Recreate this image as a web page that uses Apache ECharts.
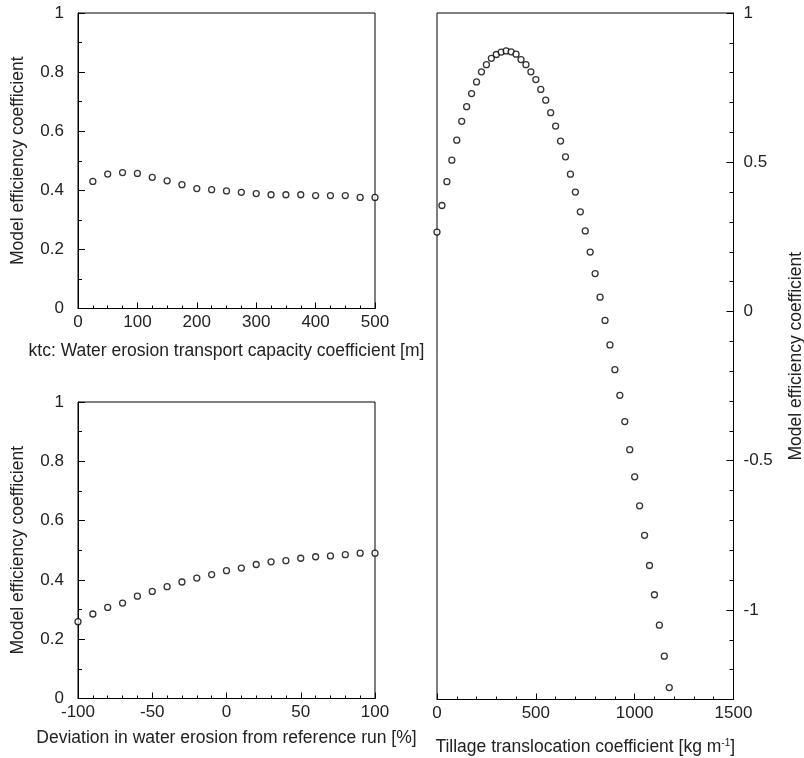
<!DOCTYPE html>
<html>
<head>
<meta charset="utf-8">
<script src="https://cdn.jsdelivr.net/npm/echarts@6/dist/echarts.min.js"></script>
<style>
html,body{margin:0;padding:0;background:#fff;}
#chart{width:804px;height:758px;}
</style>
</head>
<body>
<div id="chart"></div>
<script>
// ---- data ----
const ktcX = [25,50,75,100,125,150,175,200,225,250,275,300,325,350,375,400,425,450,475,500];
const ktcNSE = [0.430,0.455,0.460,0.457,0.444,0.432,0.419,0.406,0.402,0.398,0.393,0.389,0.385,0.385,0.385,0.382,0.382,0.382,0.376,0.376];

const devX = [-100,-90,-80,-70,-60,-50,-40,-30,-20,-10,0,10,20,30,40,50,60,70,80,90,100];
const devNSE = [0.259,0.285,0.307,0.322,0.345,0.361,0.377,0.393,0.406,0.418,0.431,0.440,0.452,0.461,0.465,0.473,0.478,0.481,0.485,0.490,0.490];

const tillX = [0,25,50,75,100,125,150,175,200,225,250,275,300,325,350,375,400,425,450,475,500,525,550,575,600,625,650,675,700,725,750,775,800,825,850,875,900,925,950,975,1000,1025,1050,1075,1100,1125,1150,1175];
const tillNSE = [0.266,0.355,0.435,0.507,0.574,0.637,0.686,0.730,0.769,0.803,0.827,0.848,0.861,0.869,0.873,0.870,0.862,0.844,0.827,0.803,0.777,0.744,0.708,0.666,0.621,0.571,0.518,0.460,0.400,0.334,0.270,0.199,0.127,0.048,-0.030,-0.112,-0.195,-0.281,-0.369,-0.463,-0.554,-0.651,-0.750,-0.851,-0.949,-1.051,-1.155,-1.260];

// right-panel y ticks (major with labels, minor without)
const rightYMajorTicks = [-1,-0.5,0,0.5,1];
const rightYMinorTicks = [-1.2,-1.1,-0.9,-0.8,-0.7,-0.6,-0.4,-0.3,-0.2,-0.1,0.1,0.2,0.3,0.4,0.6,0.7,0.8,0.9];

const xTitleKtc = 'ktc: Water erosion transport capacity coefficient [m]';
const xTitleDev = 'Deviation in water erosion from reference run [%]';
const xTitleTill = 'Tillage translocation coefficient [kg m{sup|-1}]';
const yTitle = 'Model efficiency coefficient';

// ---- chart ----
const FONT = '"Liberation Sans", Arial, sans-serif';
const TXT = '#222';
const FS = 17;
const FST = 17.5;

function zip(xs, ys){ return xs.map((x,i)=>[x, ys[i]]); }
const plain = v => String(Math.round(v*1000)/1000);

function xAx(grid, min, max, interval, minorSplit, name, gap){
  return {
    type:'value', gridIndex:grid, min:min, max:max, interval:interval,
    axisLine:{show:true, onZero:false, lineStyle:{color:'#000', width:1}},
    axisTick:{show:true, inside:true, length:6, lineStyle:{color:'#000'}},
    minorTick:{show:true, splitNumber:minorSplit, length:3, lineStyle:{color:'#000'}},
    splitLine:{show:false}, minorSplitLine:{show:false},
    axisLabel:{show:true, margin:5, color:TXT, fontSize:FS, fontFamily:FONT, formatter:plain},
    name:name, nameLocation:'middle', nameGap:gap,
    nameTextStyle:{color:TXT, fontSize:FST, fontFamily:FONT,
      rich:{sup:{fontSize:10, verticalAlign:'top', color:TXT, fontFamily:FONT, padding:[0,0,8,0]}}}
  };
}

function yAxLeft(grid){
  return {
    type:'value', gridIndex:grid, min:0, max:1, interval:0.2,
    axisLine:{show:true, onZero:false, lineStyle:{color:'#000', width:1}},
    axisTick:{show:true, inside:true, length:7, lineStyle:{color:'#000'}},
    minorTick:{show:true, splitNumber:2, length:4, lineStyle:{color:'#000'}},
    splitLine:{show:false}, minorSplitLine:{show:false},
    axisLabel:{show:true, margin:14, color:TXT, fontSize:FS, fontFamily:FONT, formatter:plain},
    name:yTitle, nameLocation:'middle', nameGap:51, nameRotate:90,
    nameTextStyle:{color:TXT, fontSize:FST, fontFamily:FONT}
  };
}

const sym = {symbol:'circle', symbolSize:6,
  itemStyle:{color:'#fff', borderColor:'#000', borderWidth:1.3}};

const gridBase = {show:true, borderColor:'#000', borderWidth:1, backgroundColor:'transparent', containLabel:false, outerBoundsMode:'none'};

const option = {
  animation:false,
  backgroundColor:'#fff',
  grid:[
    Object.assign({left:78, top:13, width:297, height:295.5}, gridBase),
    Object.assign({left:78, top:402, width:297, height:296.5}, gridBase),
    Object.assign({left:437, top:13, width:296.5, height:686.5}, gridBase),
    // overlay grid used only for the minor ticks of the right axis
    {left:437, top:13, width:296.5, height:686.5, show:false, containLabel:false, outerBoundsMode:'none'}
  ],
  xAxis:[
    xAx(0, 0, 500, 100, 4, xTitleKtc, 34),
    xAx(1, -100, 100, 50, 5, xTitleDev, 31),
    xAx(2, 0, 1500, 500, 5, xTitleTill, 39),
    {type:'value', gridIndex:3, min:0, max:1500, show:false, axisLine:{onZero:false}}
  ],
  yAxis:[
    yAxLeft(0),
    yAxLeft(1),
    {
      type:'value', gridIndex:2, position:'right', min:-1.3, max:1, interval:0.1,
      axisLine:{show:true, onZero:false, lineStyle:{color:'#000', width:1}},
      axisTick:{show:true, inside:true, length:7, lineStyle:{color:'#000'}, customValues:rightYMajorTicks},
      splitLine:{show:false},
      axisLabel:{show:true, margin:10, color:TXT, fontSize:FS, fontFamily:FONT, formatter:plain, customValues:rightYMajorTicks},
      name:yTitle, nameLocation:'middle', nameGap:54, nameRotate:90,
      nameTextStyle:{color:TXT, fontSize:FST, fontFamily:FONT}
    },
    {
      type:'value', gridIndex:3, position:'right', min:-1.3, max:1, interval:0.1,
      axisLine:{show:false, onZero:false},
      axisTick:{show:true, inside:true, length:4, lineStyle:{color:'#000'}, customValues:rightYMinorTicks},
      splitLine:{show:false},
      axisLabel:{show:false}
    }
  ],
  series:[
    Object.assign({type:'scatter', xAxisIndex:0, yAxisIndex:0, data:zip(ktcX, ktcNSE), clip:false, z:5}, sym),
    Object.assign({type:'scatter', xAxisIndex:1, yAxisIndex:1, data:zip(devX, devNSE), clip:false, z:5}, sym),
    Object.assign({type:'scatter', xAxisIndex:2, yAxisIndex:2, data:zip(tillX, tillNSE), clip:false, z:5}, sym)
  ]
};

const chart = echarts.init(document.getElementById('chart'), null, {renderer:'canvas'});
chart.setOption(option);
</script>
</body>
</html>
